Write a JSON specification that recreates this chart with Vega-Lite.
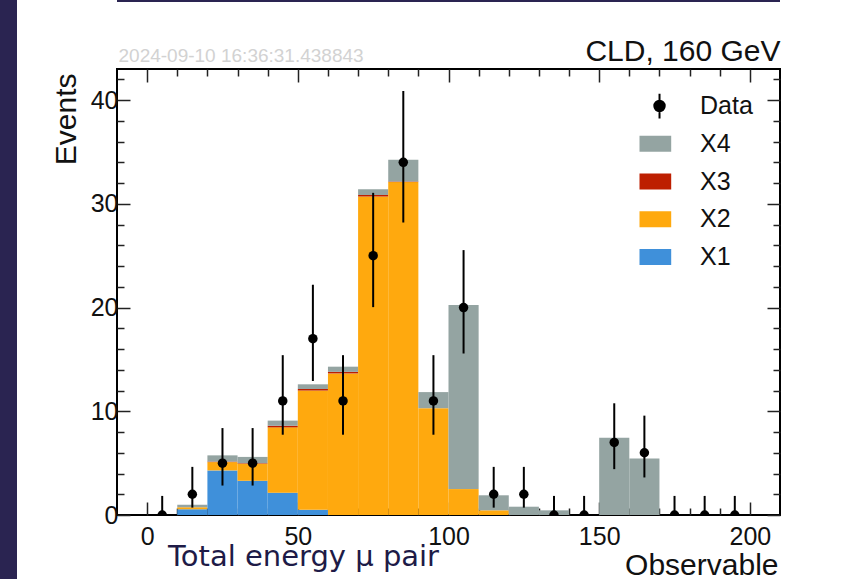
{
  "$schema": "https://vega.github.io/schema/vega-lite/v6.json",
  "background": "white",
  "padding": 0,
  "bounds": "flush",
  "spacing": 100,
  "config": {
    "font": "Liberation Sans",
    "axis": {"grid": false, "domain": false, "labelColor": "#111", "titleColor": "#111", "tickColor": "#222", "tickWidth": 1.5}
  },
  "datasets": {
    "mc": [
      {"lo": 10, "hi": 20, "process": "X1", "events": 0.55},
      {"lo": 10, "hi": 20, "process": "X2", "events": 0.2},
      {"lo": 10, "hi": 20, "process": "X4", "events": 0.25},
      {"lo": 20, "hi": 30, "process": "X1", "events": 4.3},
      {"lo": 20, "hi": 30, "process": "X2", "events": 0.8},
      {"lo": 20, "hi": 30, "process": "X3", "events": 0.05},
      {"lo": 20, "hi": 30, "process": "X4", "events": 0.6},
      {"lo": 30, "hi": 40, "process": "X1", "events": 3.3},
      {"lo": 30, "hi": 40, "process": "X2", "events": 1.65},
      {"lo": 30, "hi": 40, "process": "X3", "events": 0.05},
      {"lo": 30, "hi": 40, "process": "X4", "events": 0.6},
      {"lo": 40, "hi": 50, "process": "X1", "events": 2.15},
      {"lo": 40, "hi": 50, "process": "X2", "events": 6.3},
      {"lo": 40, "hi": 50, "process": "X3", "events": 0.15},
      {"lo": 40, "hi": 50, "process": "X4", "events": 0.5},
      {"lo": 50, "hi": 60, "process": "X1", "events": 0.5},
      {"lo": 50, "hi": 60, "process": "X2", "events": 11.5},
      {"lo": 50, "hi": 60, "process": "X3", "events": 0.15},
      {"lo": 50, "hi": 60, "process": "X4", "events": 0.45},
      {"lo": 60, "hi": 70, "process": "X2", "events": 13.65},
      {"lo": 60, "hi": 70, "process": "X3", "events": 0.15},
      {"lo": 60, "hi": 70, "process": "X4", "events": 0.5},
      {"lo": 70, "hi": 80, "process": "X2", "events": 30.7},
      {"lo": 70, "hi": 80, "process": "X3", "events": 0.15},
      {"lo": 70, "hi": 80, "process": "X4", "events": 0.55},
      {"lo": 80, "hi": 90, "process": "X2", "events": 32.1},
      {"lo": 80, "hi": 90, "process": "X3", "events": 0.05},
      {"lo": 80, "hi": 90, "process": "X4", "events": 2.1},
      {"lo": 90, "hi": 100, "process": "X2", "events": 10.3},
      {"lo": 90, "hi": 100, "process": "X4", "events": 1.55},
      {"lo": 100, "hi": 110, "process": "X2", "events": 2.5},
      {"lo": 100, "hi": 110, "process": "X4", "events": 17.75},
      {"lo": 110, "hi": 120, "process": "X2", "events": 0.45},
      {"lo": 110, "hi": 120, "process": "X4", "events": 1.45},
      {"lo": 120, "hi": 130, "process": "X4", "events": 0.8},
      {"lo": 130, "hi": 140, "process": "X4", "events": 0.45},
      {"lo": 150, "hi": 160, "process": "X4", "events": 7.45},
      {"lo": 160, "hi": 170, "process": "X4", "events": 5.45}
    ],
    "obs": [
      {"center": 5, "n": 0, "lo": 0, "hi": 1.84},
      {"center": 15, "n": 2, "lo": 0.71, "hi": 4.64},
      {"center": 25, "n": 5, "lo": 2.84, "hi": 8.38},
      {"center": 35, "n": 5, "lo": 2.84, "hi": 8.38},
      {"center": 45, "n": 11, "lo": 7.74, "hi": 15.41},
      {"center": 55, "n": 17, "lo": 12.92, "hi": 22.2},
      {"center": 65, "n": 11, "lo": 7.74, "hi": 15.41},
      {"center": 75, "n": 25, "lo": 20.04, "hi": 31.06},
      {"center": 85, "n": 34, "lo": 28.2, "hi": 40.88},
      {"center": 95, "n": 11, "lo": 7.74, "hi": 15.41},
      {"center": 105, "n": 20, "lo": 15.57, "hi": 25.54},
      {"center": 115, "n": 2, "lo": 0.71, "hi": 4.64},
      {"center": 125, "n": 2, "lo": 0.71, "hi": 4.64},
      {"center": 135, "n": 0, "lo": 0, "hi": 1.84},
      {"center": 145, "n": 0, "lo": 0, "hi": 1.84},
      {"center": 155, "n": 7, "lo": 4.42, "hi": 10.77},
      {"center": 165, "n": 6, "lo": 3.62, "hi": 9.58},
      {"center": 175, "n": 0, "lo": 0, "hi": 1.84},
      {"center": 185, "n": 0, "lo": 0, "hi": 1.84},
      {"center": 195, "n": 0, "lo": 0, "hi": 1.84}
    ]
  },
  "hconcat": [
    {
      "width": 17,
      "height": 579,
      "view": {"fill": "#2a2451", "stroke": null},
      "data": {"values": []},
      "mark": "rect"
    },
    {
      "bounds": "flush",
      "spacing": 67,
      "vconcat": [
        {
          "width": 663,
          "height": 2,
          "view": {"fill": "#2a2451", "stroke": null},
          "data": {"values": []},
          "mark": "rect"
        },
        {
          "width": 663,
          "height": 446,
          "view": {"stroke": "#000", "strokeWidth": 2},
          "title": {
            "text": "Total energy μ pair",
            "orient": "bottom",
            "anchor": "start",
            "frame": "group",
            "font": "DejaVu Sans",
            "fontSize": 29,
            "fontWeight": "normal",
            "color": "#1e1b47",
            "dx": 51,
            "dy": -41
          },
          "resolve": {"axis": {"x": "independent", "y": "independent"}},
          "layer": [
            {
              "data": {"name": "mc"},
              "transform": [
                {"stack": "events", "groupby": ["lo"], "sort": [{"field": "process", "order": "ascending"}], "as": ["y0", "y1"]}
              ],
              "mark": {"type": "rect", "clip": true, "strokeWidth": 0},
              "encoding": {
                "x": {
                  "field": "lo", "type": "quantitative",
                  "scale": {"domain": [-10, 210], "nice": false, "zero": false},
                  "axis": {
                    "orient": "bottom",
                    "values": [0, 50, 100, 150, 200],
                    "tickSize": -13,
                    "labelPadding": 22,
                    "labelFontSize": 25,
                    "labelFlush": false,
                    "labelOverlap": false,
                    "title": "Observable",
                    "titleFontSize": 30,
                    "titleFontWeight": "normal",
                    "titleAlign": "right",
                    "titleAnchor": "end",
                    "titleBaseline": "alphabetic",
                    "titleX": 661,
                    "titleY": 59
                  }
                },
                "x2": {"field": "hi"},
                "y": {
                  "field": "y0", "type": "quantitative",
                  "scale": {"domain": [0, 43], "nice": false},
                  "axis": {
                    "orient": "left",
                    "values": [0, 10, 20, 30, 40],
                    "tickSize": -13,
                    "labelPadding": 12,
                    "labelFontSize": 25,
                    "labelFlush": false,
                    "labelOverlap": false,
                    "title": "Events",
                    "titleFontSize": 30,
                    "titleFontWeight": "normal",
                    "titleAngle": 270,
                    "titleAlign": "right",
                    "titleAnchor": "end",
                    "titleBaseline": "alphabetic",
                    "titleX": -42,
                    "titleY": 4
                  }
                },
                "y2": {"field": "y1"},
                "color": {
                  "field": "process", "type": "nominal",
                  "scale": {
                    "domain": ["Data", "X4", "X3", "X2", "X1"],
                    "range": ["#000000", "#94a4a2", "#bd1f01", "#ffa90e", "#3f90da"]
                  },
                  "legend": {
                    "title": null,
                    "orient": "none",
                    "legendX": 639.5,
                    "legendY": 93.5,
                    "padding": 0,
                    "symbolSize": 256,
                    "clipHeight": 25,
                    "labelFontSize": 25,
                    "labelColor": "#111",
                    "labelOffset": 35.5,
                    "rowPadding": 11.75,
                    "encode": {
                      "symbols": {
                        "update": {
                          "shape": {"signal": "datum.value === 'Data' ? 'M0.94,-1.55V1.55M1.59,0A0.65,0.65,0,1,1,0.29,0A0.65,0.65,0,1,1,1.59,0Z' : 'M-2.4,-1H2.4V1H-2.4Z'"},
                          "stroke": {"signal": "datum.value === 'Data' ? '#000' : 'transparent'"},
                          "strokeWidth": {"value": 2},
                          "opacity": {"value": 1}
                        }
                      }
                    }
                  }
                }
              }
            },
            {
              "data": {"name": "obs"},
              "mark": {"type": "rule", "color": "#000", "strokeWidth": 2, "clip": true},
              "encoding": {
                "x": {
                  "field": "center", "type": "quantitative",
                  "scale": {"domain": [-10, 210], "nice": false, "zero": false},
                  "axis": {
                    "orient": "bottom",
                    "values": [10, 20, 30, 40, 60, 70, 80, 90, 110, 120, 130, 140, 160, 170, 180, 190],
                    "tickSize": -7,
                    "labels": false,
                    "title": null
                  }
                },
                "y": {
                  "field": "lo", "type": "quantitative",
                  "scale": {"domain": [0, 43], "nice": false},
                  "axis": {
                    "orient": "left",
                    "values": [2, 4, 6, 8, 12, 14, 16, 18, 22, 24, 26, 28, 32, 34, 36, 38, 42],
                    "tickSize": -7,
                    "labels": false,
                    "title": null
                  }
                },
                "y2": {"field": "hi"}
              }
            },
            {
              "data": {"name": "obs"},
              "mark": {"type": "point", "filled": true, "size": 90, "color": "#000", "opacity": 1, "clip": true},
              "encoding": {
                "x": {
                  "field": "center", "type": "quantitative",
                  "scale": {"domain": [-10, 210], "nice": false, "zero": false},
                  "axis": {
                    "orient": "top",
                    "values": [0, 10, 20, 30, 40, 50, 60, 70, 80, 90, 100, 110, 120, 130, 140, 150, 160, 170, 180, 190, 200],
                    "labels": false,
                    "tickSize": {"condition": {"test": "datum.value % 50 === 0", "value": -13}, "value": -7},
                    "title": "CLD, 160 GeV",
                    "titleFontSize": 30,
                    "titleFontWeight": "normal",
                    "titleAlign": "right",
                    "titleAnchor": "end",
                    "titleBaseline": "alphabetic",
                    "titleX": 663,
                    "titleY": -9
                  }
                },
                "y": {
                  "field": "n", "type": "quantitative",
                  "scale": {"domain": [0, 43], "nice": false},
                  "axis": {
                    "orient": "right",
                    "values": [0, 2, 4, 6, 8, 10, 12, 14, 16, 18, 20, 22, 24, 26, 28, 30, 32, 34, 36, 38, 40, 42],
                    "labels": false,
                    "tickSize": {"condition": {"test": "datum.value % 10 === 0", "value": -13}, "value": -7},
                    "title": "2024-09-10 16:36:31.438843",
                    "titleFontSize": 19,
                    "titleFontWeight": "normal",
                    "titleColor": "#d2d2d2",
                    "titleAngle": 0,
                    "titleAlign": "left",
                    "titleBaseline": "alphabetic",
                    "titleX": -662,
                    "titleY": -8
                  }
                }
              }
            }
          ]
        }
      ]
    }
  ]
}
